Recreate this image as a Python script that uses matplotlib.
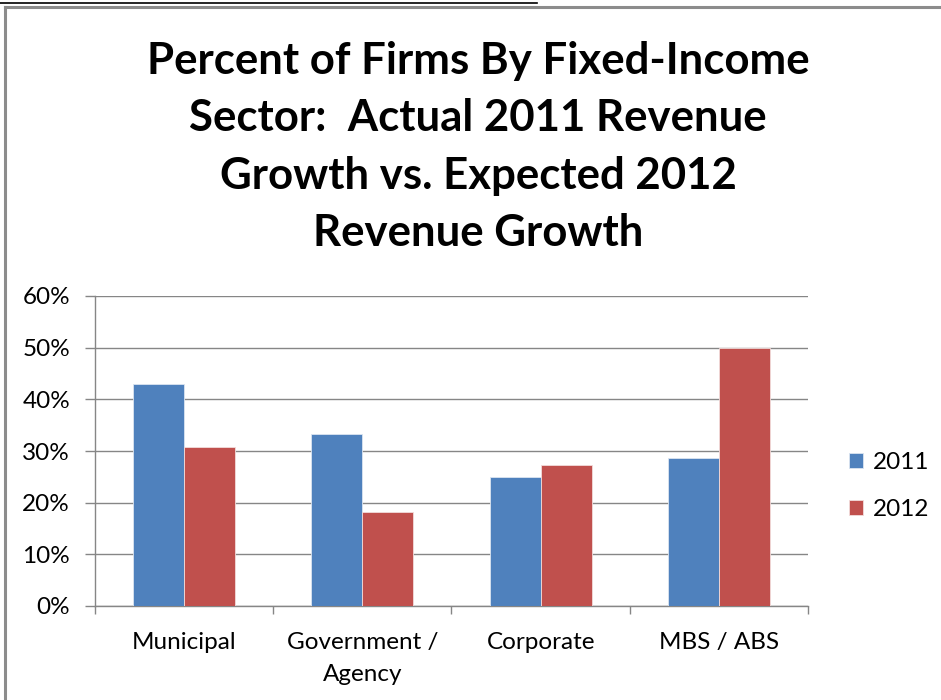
import matplotlib
matplotlib.use("Agg")
import matplotlib.pyplot as plt
import numpy as np
from matplotlib.lines import Line2D
from matplotlib.ticker import PercentFormatter

categories = ["Municipal", "Government /\nAgency", "Corporate", "MBS / ABS"]
series_names = ["2011", "2012"]
values_2011 = [42.9, 33.3, 25.0, 28.6]
values_2012 = [30.8, 18.2, 27.3, 50.0]
y_ticks = [0, 10, 20, 30, 40, 50, 60]

BLUE = "#4F81BD"
RED = "#C0504D"
GRID = "#868686"
FONT = "Lato"
LABEL_SIZE = 17.5

W, H = 941, 700
fig = plt.figure(figsize=(W / 100, H / 100), dpi=100)
fig.patch.set_facecolor("white")


def fx(px):
    return px / W


def fy(py):
    return 1 - py / H


# chart frame and the underline of the text line above it
fig.add_artist(Line2D([fx(5), fx(5)], [fy(7), fy(700)], color="#8c8c8c", lw=2.2))
fig.add_artist(Line2D([fx(5), fx(941)], [fy(7), fy(7)], color="#8c8c8c", lw=2.2))
fig.add_artist(Line2D([fx(0), fx(537)], [fy(3), fy(3)], color="black", lw=1.2))

# title
fig.text(fx(478), fy(147),
         "Percent of Firms By Fixed-Income\nSector:  Actual 2011 Revenue\nGrowth vs. Expected 2012\nRevenue Growth",
         ha="center", va="center", fontsize=31.5, fontweight="bold",
         family=FONT, linespacing=1.52, color="black")

ax = fig.add_axes([fx(95), fy(606), fx(808) - fx(95), fy(296) - fy(606)])
x = np.arange(len(categories))
bw = 1 / 3.5
ax.bar(x - bw / 2, values_2011, bw, color=BLUE, edgecolor="#dbe5f1", linewidth=0.6,
       label=series_names[0], zorder=3)
ax.bar(x + bw / 2, values_2012, bw, color=RED, edgecolor="#f2dcdb", linewidth=0.6,
       label=series_names[1], zorder=3)

ax.set_xlim(-0.5, len(categories) - 0.5)
ax.set_ylim(0, 60)
ax.set_yticks(y_ticks)
ax.yaxis.set_major_formatter(PercentFormatter(decimals=0))
ax.grid(axis="y", color=GRID, lw=1.0, zorder=0)
ax.set_axisbelow(True)

ax.set_xticks(x)
ax.set_xticklabels(categories, family=FONT, fontsize=LABEL_SIZE, linespacing=1.65)
ax.tick_params(axis="x", length=0, pad=18.5)
ax.set_xticks(np.arange(len(categories) + 1) - 0.5, minor=True)
ax.tick_params(axis="x", which="minor", length=6, color=GRID, width=1.0)
ax.tick_params(axis="y", length=7, color=GRID, width=1.0, pad=11, labelsize=LABEL_SIZE)
for lab in ax.get_yticklabels():
    lab.set_family(FONT)

for side in ("top", "right"):
    ax.spines[side].set_visible(False)
for side in ("left", "bottom"):
    ax.spines[side].set_color(GRID)
    ax.spines[side].set_linewidth(1.0)

leg = fig.legend(loc="center left", bbox_to_anchor=(fx(827), fy(486)),
                 frameon=False, prop={"family": FONT, "size": LABEL_SIZE},
                 handlelength=0.6, handleheight=0.6, handletextpad=0.4,
                 labelspacing=1.08)

fig.savefig("out.png", dpi=100, facecolor="white")
